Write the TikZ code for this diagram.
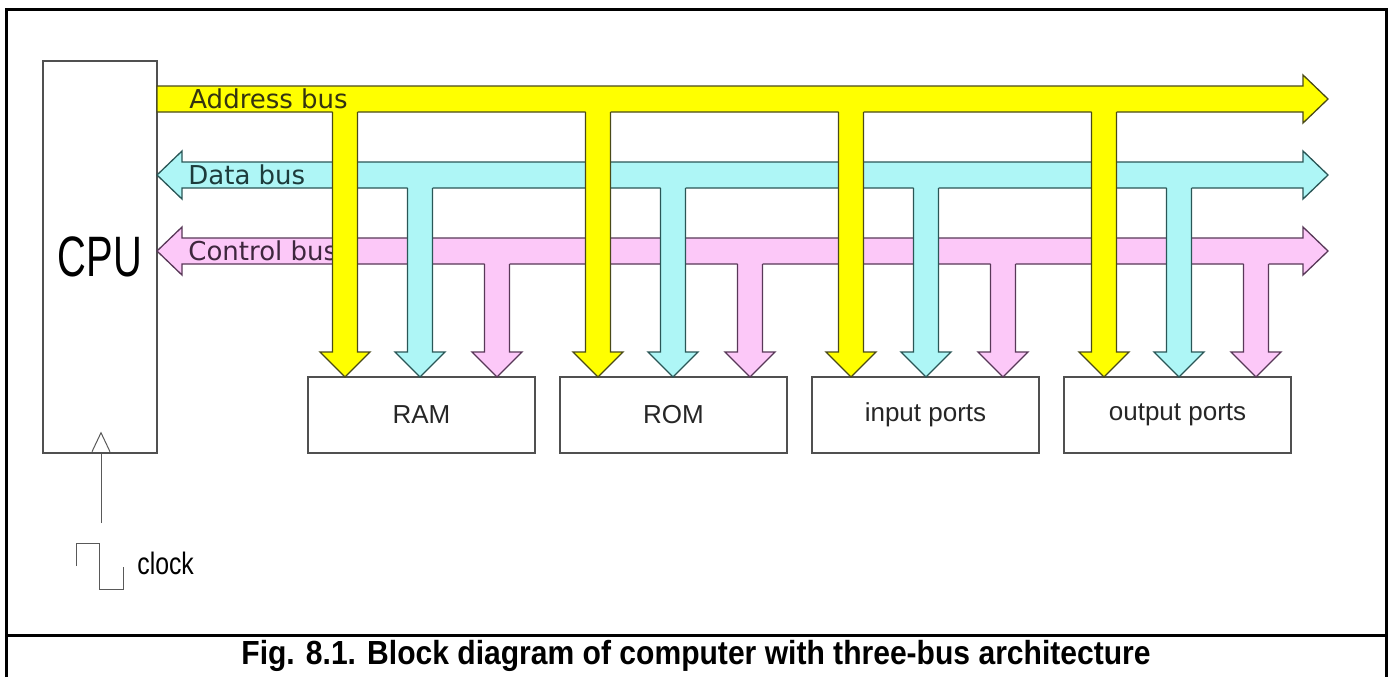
\documentclass[tikz,border=0pt]{standalone}
\usepackage{fontspec}
\setmainfont{Liberation Sans}
\newfontfamily\busfont{DejaVu Sans}
\newfontfamily\cpufont[FakeStretch=0.7]{Liberation Sans}
\newfontfamily\clockfont[FakeStretch=0.8]{Liberation Sans}
\newfontfamily\captfont[FakeStretch=0.9]{Liberation Sans}
\usetikzlibrary{calc}
\definecolor{addrfill}{HTML}{FFFF00}
\definecolor{addrline}{HTML}{4A4A18}
\definecolor{datafill}{HTML}{AEF6F6}
\definecolor{dataline}{HTML}{2A5656}
\definecolor{ctrlfill}{HTML}{FCC8F8}
\definecolor{ctrlline}{HTML}{583858}
\definecolor{boxline}{HTML}{505050}

% one branch of a bus, from the bus down onto a unit
\newcommand\busdrop[3]{%
  \fill[#3,draw=none] (#1-12.5,#2-2) -- (#1-12.5,352) -- (#1-25,352) -- (#1,377)
    -- (#1+25,352) -- (#1+12.5,352) -- (#1+12.5,#2-2) -- cycle;
  \draw[#3,fill=none] (#1-12.5,#2) -- (#1-12.5,352) -- (#1-25,352) -- (#1,377)
    -- (#1+25,352) -- (#1+12.5,352) -- (#1+12.5,#2);}

\begin{document}
\begin{tikzpicture}[x=.5pt,y=-.5pt,
  addr/.style={fill=addrfill,draw=addrline,line width=.65pt,line join=miter},
  data/.style={fill=datafill,draw=dataline,line width=.65pt,line join=miter},
  ctrl/.style={fill=ctrlfill,draw=ctrlline,line width=.65pt,line join=miter},
  unit/.style={draw=boxline,line width=.7pt,minimum width=113.5pt,minimum height=38pt,
    inner sep=0pt,text=black!85,font=\fontsize{13}{15}\selectfont},
  buslabel/.style={anchor=west,inner sep=0pt,font=\busfont\fontsize{13}{15}\selectfont},
  clockline/.style={draw=black!65,line width=.5pt}]
\useasboundingbox (0,0) rectangle (1390,677);
% frame and caption rule
\draw[line width=1.5pt] (6,677) -- (6,9) -- (1386,9) -- (1386,677);
\draw[line width=1.5pt] (6,635) -- (1386,635);

\node[draw=boxline,line width=.7pt,minimum width=57pt,minimum height=196pt,inner sep=0pt,
  font=\cpufont\fontsize{28.5}{30}\selectfont] (cpu) at (100,257) {CPU};
\foreach \nm/\txt [count=\i from 0] in {ram/RAM,rom/ROM,inp/input ports,outp/output ports}
  \node[unit] (\nm) at (421.5+252*\i,415) {\txt};

% control bus
\draw[ctrl] (157,251) -- (182,227) -- (182,238) -- (1303,238) -- (1303,227) -- (1328,251)
  -- (1303,275) -- (1303,264) -- (182,264) -- (182,275) -- cycle;
\node[buslabel,text=ctrlline!70!black] (ctrllbl) at (188,251) {Control bus};
\foreach \i in {0,...,3} {\busdrop{497+253*\i}{264}{ctrl}}

% data bus
\draw[data] (157,175) -- (182,151) -- (182,162) -- (1303,162) -- (1303,151) -- (1328,175)
  -- (1303,199) -- (1303,188) -- (182,188) -- (182,199) -- cycle;
\node[buslabel,text=dataline!70!black] (datalbl) at (188,175) {Data bus};
\foreach \i in {0,...,3} {\busdrop{420+253*\i}{188}{data}}

% address bus
\draw[addr] (157,86) -- (1303,86) -- (1303,75) -- (1328,99) -- (1303,123) -- (1303,112)
  -- (157,112) -- cycle;
\node[buslabel,text=addrline!70!black] (addrlbl) at (189,99) {Address bus};
\foreach \i in {0,...,3} {\busdrop{345+253*\i}{112}{addr}}

% clock
\coordinate (clk) at (101,523);
\draw[clockline] (clk) -- (clk |- cpu.south);
\draw[clockline] ($(clk |- cpu.south)+(-9,-2)$) -- ++(9,-19) -- ++(9,19);
\draw[clockline] (76,566) -- ++(0,-23) -- ++(23,0) -- ++(0,46) -- ++(24,0) -- ++(0,-22);
\node[anchor=base west,inner sep=0pt,font=\clockfont\fontsize{15.5}{17}\selectfont]
  (clocklbl) at (137,574) {clock};

\node[font=\captfont\bfseries\fontsize{16.7}{18}\selectfont] (caption) at (696,656)
  {Fig. 8.1. Block diagram of computer with three-bus architecture};
\end{tikzpicture}
\end{document}
